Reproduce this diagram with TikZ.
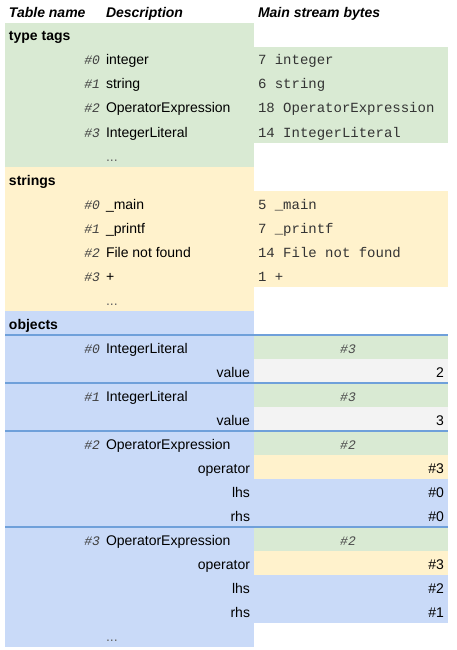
\documentclass[tikz,border=0pt]{standalone}
\usepackage{fontspec}
\setmainfont{Liberation Sans}
\setmonofont{Liberation Mono}
\definecolor{tgreen}{HTML}{D9EAD3}
\definecolor{tyellow}{HTML}{FFF2CC}
\definecolor{tblue}{HTML}{C9DAF8}
\definecolor{tgray}{HTML}{F3F3F3}
\definecolor{tline}{HTML}{6FA0DA}
\begin{document}
\begin{tikzpicture}[x=1pt,y=-1pt,
 every node/.style={inner sep=0pt, outer sep=0pt, font=\fontsize{14}{16}\selectfont},
 hdr/.style={anchor=base west, font=\fontsize{14}{16}\selectfont\bfseries\itshape},
 ttl/.style={anchor=base west, font=\fontsize{14}{16}\selectfont\bfseries},
 idx/.style={anchor=base east, font=\fontsize{13}{16}\selectfont\ttfamily\itshape, text=black!75},
 desc/.style={anchor=base west},
 field/.style={anchor=base east},
 bytes/.style={anchor=base west, font=\fontsize{14}{16}\selectfont\ttfamily, text=black!80},
 tagref/.style={anchor=base, font=\fontsize{13}{16}\selectfont\ttfamily\itshape, text=black!70},
 val/.style={anchor=base east},
 dotsl/.style={anchor=base west, text=black!60},
 sep/.style={draw=tline, line width=1.5pt}
]
\useasboundingbox (0,0) rectangle (457,650);
\fill[white] (0,0) rectangle (457,650);
% backgrounds
\fill[tgreen] (5,23) rectangle (254,167);
\fill[tgreen] (254,47) rectangle (448,143);
\fill[tyellow] (5,167) rectangle (254,311);
\fill[tyellow] (254,191) rectangle (448,287);
\fill[tblue] (5,311) rectangle (254,647);
\fill[tblue] (254,335) rectangle (448,623);
\fill[tgreen] (254,335) rectangle (448,359);
\fill[tgray] (254,359) rectangle (448,383);
\fill[tgreen] (254,383) rectangle (448,407);
\fill[tgray] (254,407) rectangle (448,431);
\fill[tgreen] (254,431) rectangle (448,455);
\fill[tyellow] (254,455) rectangle (448,479);
\fill[tgreen] (254,527) rectangle (448,551);
\fill[tyellow] (254,551) rectangle (448,575);
% separators
\draw[sep] (5,335) -- (448,335);
\draw[sep] (5,383) -- (448,383);
\draw[sep] (5,431) -- (448,431);
\draw[sep] (5,527) -- (448,527);
% header
\node[hdr] (h1) at (9,18) {Table name};
\node[hdr] (h2) at (106,18) {Description};
\node[hdr] (h3) at (258,18) {Main stream bytes};
% type tags
\node[ttl] (tt) at (9,41) {type tags};
\node[idx] (tt0i) at (100,65) {\#0};
\node[desc] (tt0d) at (106,65) {integer};
\node[bytes] (tt0b) at (258,65) {7 integer};
\node[idx] (tt1i) at (100,89) {\#1};
\node[desc] (tt1d) at (106,89) {string};
\node[bytes] (tt1b) at (258,89) {6 string};
\node[idx] (tt2i) at (100,113) {\#2};
\node[desc] (tt2d) at (106,113) {OperatorExpression};
\node[bytes] (tt2b) at (258,113) {18 OperatorExpression};
\node[idx] (tt3i) at (100,137) {\#3};
\node[desc] (tt3d) at (106,137) {IntegerLiteral};
\node[bytes] (tt3b) at (258,137) {14 IntegerLiteral};
\node[dotsl] (ttd) at (106,161) {...};
% strings
\node[ttl] (st) at (9,185) {strings};
\node[idx] (st0i) at (100,209) {\#0};
\node[desc] (st0d) at (106,209) {\_main};
\node[bytes] (st0b) at (258,209) {5 \_main};
\node[idx] (st1i) at (100,233) {\#1};
\node[desc] (st1d) at (106,233) {\_printf};
\node[bytes] (st1b) at (258,233) {7 \_printf};
\node[idx] (st2i) at (100,257) {\#2};
\node[desc] (st2d) at (106,257) {File not found};
\node[bytes] (st2b) at (258,257) {14 File not found};
\node[idx] (st3i) at (100,281) {\#3};
\node[desc] (st3d) at (106,281) {+};
\node[bytes] (st3b) at (258,281) {1 +};
\node[dotsl] (std) at (106,305) {...};
% objects
\node[ttl] (ob) at (9,329) {objects};
\node[idx] (o0i) at (100,353) {\#0};
\node[desc] (o0d) at (106,353) {IntegerLiteral};
\node[tagref] (o0t) at (348,353) {\#3};
\node[field] (o0f) at (250,377) {value};
\node[val] (o0v) at (444,377) {2};
\node[idx] (o1i) at (100,401) {\#1};
\node[desc] (o1d) at (106,401) {IntegerLiteral};
\node[tagref] (o1t) at (348,401) {\#3};
\node[field] (o1f) at (250,425) {value};
\node[val] (o1v) at (444,425) {3};
\node[idx] (o2i) at (100,449) {\#2};
\node[desc] (o2d) at (106,449) {OperatorExpression};
\node[tagref] (o2t) at (348,449) {\#2};
\node[field] (o2f1) at (250,473) {operator};
\node[val] (o2v1) at (444,473) {\#3};
\node[field] (o2f2) at (250,497) {lhs};
\node[val] (o2v2) at (444,497) {\#0};
\node[field] (o2f3) at (250,521) {rhs};
\node[val] (o2v3) at (444,521) {\#0};
\node[idx] (o3i) at (100,545) {\#3};
\node[desc] (o3d) at (106,545) {OperatorExpression};
\node[tagref] (o3t) at (348,545) {\#2};
\node[field] (o3f1) at (250,569) {operator};
\node[val] (o3v1) at (444,569) {\#3};
\node[field] (o3f2) at (250,593) {lhs};
\node[val] (o3v2) at (444,593) {\#2};
\node[field] (o3f3) at (250,617) {rhs};
\node[val] (o3v3) at (444,617) {\#1};
\node[dotsl] (obd) at (106,641) {...};
\end{tikzpicture}
\end{document}
